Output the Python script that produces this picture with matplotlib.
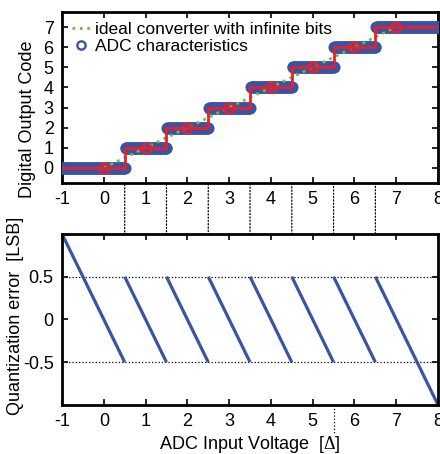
import numpy as np
import matplotlib
matplotlib.use("Agg")
import matplotlib.pyplot as plt
from matplotlib.patches import ConnectionPatch

plt.rcParams['font.family'] = ['Liberation Sans', 'DejaVu Sans']
plt.rcParams['mathtext.fontset'] = 'custom'
plt.rcParams['mathtext.rm'] = 'Liberation Serif'
plt.rcParams['axes.unicode_minus'] = False

# ---- data ----
codes = [0, 1, 2, 3, 4, 5, 6, 7]
step_lo = [-1, 0.5, 1.5, 2.5, 3.5, 4.5, 5.5, 6.5]
step_hi = [0.5, 1.5, 2.5, 3.5, 4.5, 5.5, 6.5, 8]
thresholds = [0.5, 1.5, 2.5, 3.5, 4.5, 5.5, 6.5]
ideal_x = [0, 7]
ideal_y = [0, 7]
xticks = [-1, 0, 1, 2, 3, 4, 5, 6, 7, 8]
yticks_top = [0, 1, 2, 3, 4, 5, 6, 7]
yticks_bot = [-0.5, 0, 0.5]

BLUE = '#3a54a4'
RED = '#e8202a'
GREEN = '#6cbf4a'

fig = plt.figure(figsize=(4.4, 4.54), dpi=100)
ax1 = fig.add_axes([0.141, 0.597, 0.8545, 0.3767])
ax2 = fig.add_axes([0.141, 0.108, 0.8545, 0.3767])

# dense input samples of the ADC characteristic
vin = np.linspace(-1, 8, 451)
vout = np.array(codes)[np.searchsorted(thresholds, vin)]

ax1.plot(ideal_x, ideal_y, ':', color=GREEN, lw=2, label='ideal converter with infinite bits', zorder=3.5)
ax1.plot(vin, vout, 'o', color=BLUE, mfc='none', mec=BLUE, ms=7, mew=1.7,
         label='ADC characteristics', zorder=3)
sx = []
sy = []
for c, lo, hi in zip(codes, step_lo, step_hi):
    sx += [lo, hi]
    sy += [c, c]
ax1.plot(sx, sy, '-', color=RED, lw=2, zorder=4)
ax1.plot(codes, codes, 'o', color=RED, mfc='none', mec=RED, ms=7, mew=1.6, zorder=5)

ax1.set_xlim(-1, 8)
ax1.set_ylim(-0.75, 7.75)
ax1.set_xticks(xticks)
ax1.set_yticks(yticks_top)
ax1.set_ylabel('Digital Output Code', fontsize=13)
ax1.yaxis.set_label_coords(-0.07, 0.37)
leg = ax1.legend(loc='upper left', bbox_to_anchor=(0.012, 0.975), frameon=False, fontsize=12.5,
                 numpoints=1, handlelength=1.1, handletextpad=0.25, borderpad=0.0,
                 borderaxespad=0.3, labelspacing=0.15, markerscale=0.85)

for c, lo, hi in zip(codes, step_lo, step_hi):
    err = [c - lo, c - hi]
    ax2.plot([lo, hi], err, '-', color=BLUE, lw=2.3, solid_capstyle='butt')
ax2.set_xlim(-1, 8)
ax2.set_ylim(-1, 1)
ax2.set_xticks(xticks)
ax2.set_yticks(yticks_bot)
ax2.set_yticklabels(['-0.5', '0', '0.5'])
for yv in [-0.5, 0.5]:
    ax2.axhline(yv, color='black', ls=':', lw=0.9, zorder=1)
ax2.set_ylabel('Quantization error  [LSB]', fontsize=13)
ax2.yaxis.set_label_coords(-0.1, 0.523)
ax2.set_xlabel(r'ADC Input Voltage  [$\mathrm{\Delta}$]', fontsize=13)
ax2.xaxis.set_label_coords(0.5, -0.17)

for ax in (ax1, ax2):
    ax.tick_params(direction='in', top=True, right=True, length=4, width=1.2,
                   labelsize=13, pad=6)
    for s in ax.spines.values():
        s.set_linewidth(2)

# threshold guide lines spanning both axes
for t, c in zip(thresholds, codes):
    con = ConnectionPatch(xyA=(t, c), coordsA=ax1.transData,
                          xyB=(t, -1), coordsB=ax2.transData,
                          color='black', ls=':', lw=0.9, zorder=0)
    fig.add_artist(con)
ax2.plot([5.5, 5.5], [-1, -1.35], ':', color='black', lw=0.9, clip_on=False)

fig.savefig('out.png', dpi=100)
